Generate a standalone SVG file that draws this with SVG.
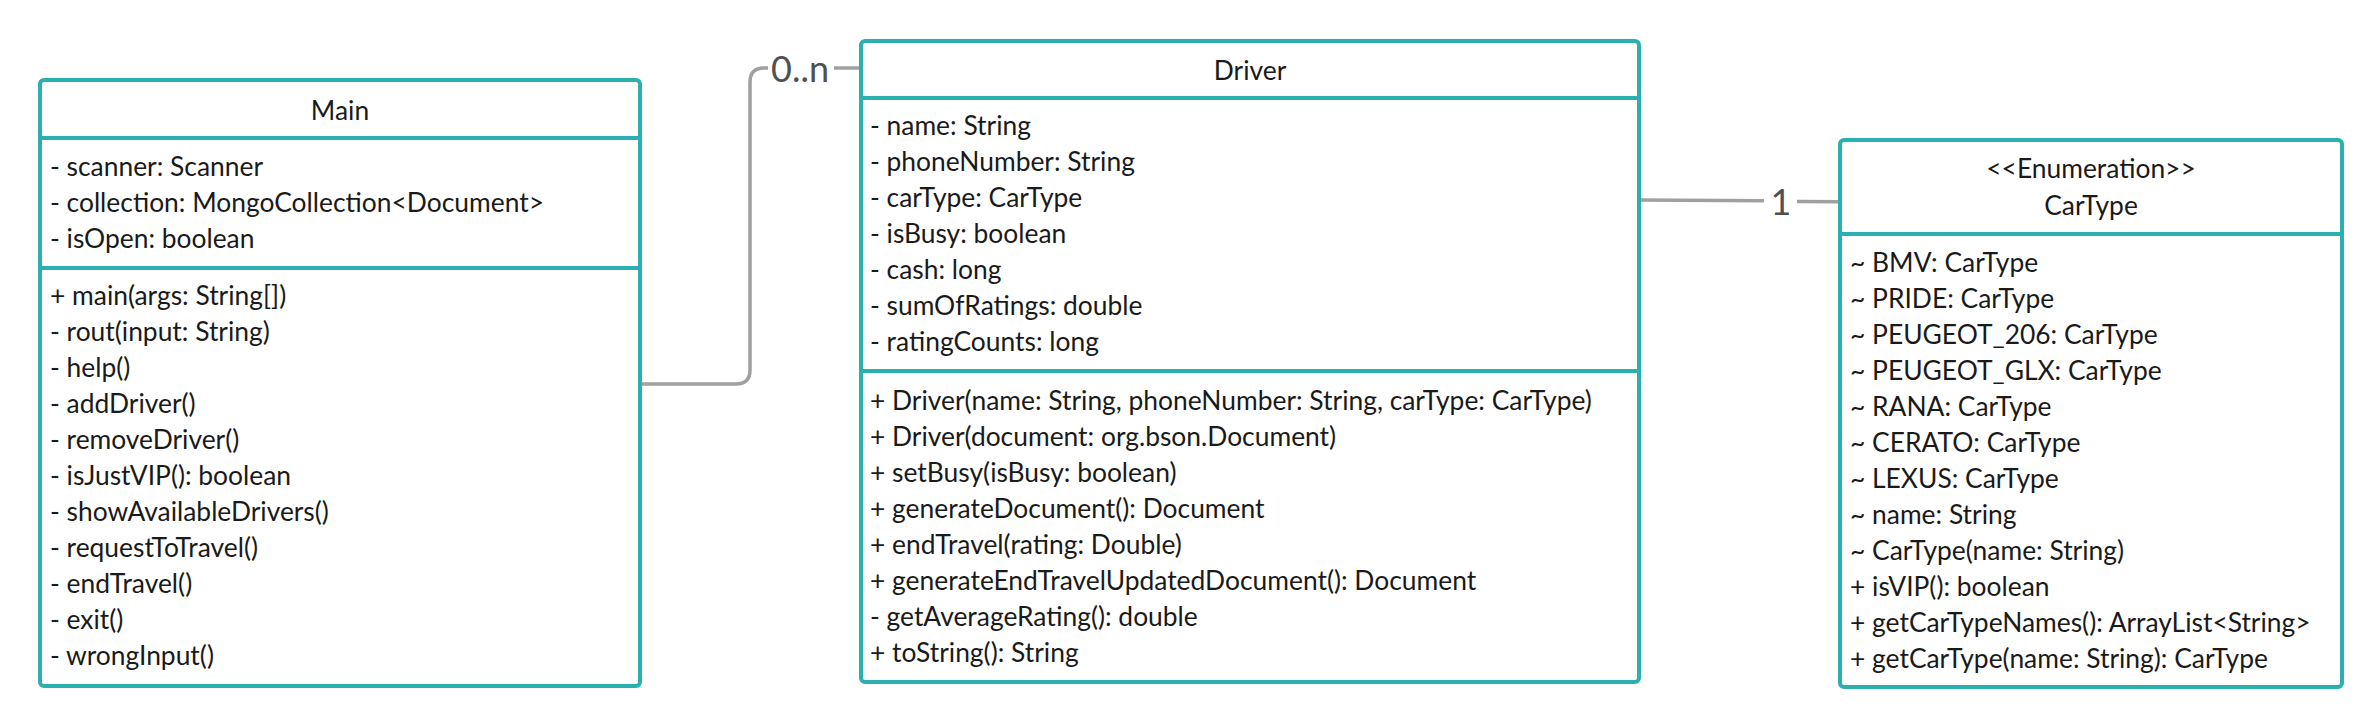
<svg xmlns="http://www.w3.org/2000/svg" width="2380" height="728" viewBox="0 0 2380 728">
<style>
.box{fill:#ffffff;stroke:#2ab0ae;stroke-width:4}
.div{stroke:#2ab0ae;stroke-width:4}
.t{font-family:Lato,"Open Sans","Liberation Sans",sans-serif;font-size:26.4px;fill:#1a1a1a}
.c{text-anchor:middle}
.conn{fill:none;stroke:#a0a0a0;stroke-width:3.5}
.lbl{font-family:Lato,"Open Sans","Liberation Sans",sans-serif;font-size:36px;fill:#505050;text-anchor:middle}
</style>
<rect width="2380" height="728" fill="#ffffff"/>
<g id="connectors">
<path class="conn" d="M640,384 H736 Q750,384 750,370 V82 Q750,68 764,68 H768"/>
<path class="conn" d="M834,68 H861"/>
<text class="lbl" x="800" y="82">0..n</text>
<path class="conn" d="M1639,200 L1764,200.8"/>
<path class="conn" d="M1797,201.5 L1840,201.8"/>
<text class="lbl" x="1781" y="215">1</text>
</g>
<g id="Main">
<rect class="box" x="40" y="80" width="600" height="606" rx="4"/>
<line class="div" x1="40" y1="138" x2="640" y2="138"/>
<line class="div" x1="40" y1="268" x2="640" y2="268"/>
<text class="t c" x="340" y="120">Main</text>
<text class="t" x="50" y="176">- scanner: Scanner</text>
<text class="t" x="50" y="212">- collection: MongoCollection&lt;Document&gt;</text>
<text class="t" x="50" y="248">- isOpen: boolean</text>
<text class="t" x="50" y="305">+ main(args: String[])</text>
<text class="t" x="50" y="341">- rout(input: String)</text>
<text class="t" x="50" y="377">- help()</text>
<text class="t" x="50" y="413">- addDriver()</text>
<text class="t" x="50" y="449">- removeDriver()</text>
<text class="t" x="50" y="485">- isJustVIP(): boolean</text>
<text class="t" x="50" y="521">- showAvailableDrivers()</text>
<text class="t" x="50" y="557">- requestToTravel()</text>
<text class="t" x="50" y="593">- endTravel()</text>
<text class="t" x="50" y="629">- exit()</text>
<text class="t" x="50" y="665">- wrongInput()</text>
</g>
<g id="Driver">
<rect class="box" x="861" y="41" width="778" height="641" rx="4"/>
<line class="div" x1="861" y1="98" x2="1639" y2="98"/>
<line class="div" x1="861" y1="371" x2="1639" y2="371"/>
<text class="t c" x="1250" y="80">Driver</text>
<text class="t" x="870" y="135">- name: String</text>
<text class="t" x="870" y="171">- phoneNumber: String</text>
<text class="t" x="870" y="207">- carType: CarType</text>
<text class="t" x="870" y="243">- isBusy: boolean</text>
<text class="t" x="870" y="279">- cash: long</text>
<text class="t" x="870" y="315">- sumOfRatings: double</text>
<text class="t" x="870" y="351">- ratingCounts: long</text>
<text class="t" x="870" y="410">+ Driver(name: String, phoneNumber: String, carType: CarType)</text>
<text class="t" x="870" y="446">+ Driver(document: org.bson.Document)</text>
<text class="t" x="870" y="482">+ setBusy(isBusy: boolean)</text>
<text class="t" x="870" y="518">+ generateDocument(): Document</text>
<text class="t" x="870" y="554">+ endTravel(rating: Double)</text>
<text class="t" x="870" y="590">+ generateEndTravelUpdatedDocument(): Document</text>
<text class="t" x="870" y="626">- getAverageRating(): double</text>
<text class="t" x="870" y="662">+ toString(): String</text>
</g>
<g id="CarType">
<rect class="box" x="1840" y="140" width="502" height="547" rx="4"/>
<line class="div" x1="1840" y1="234" x2="2342" y2="234"/>
<text class="t c" x="2091" y="178">&lt;&lt;Enumeration&gt;&gt;</text>
<text class="t c" x="2091" y="215">CarType</text>
<text class="t" x="1850" y="272">~ BMV: CarType</text>
<text class="t" x="1850" y="308">~ PRIDE: CarType</text>
<text class="t" x="1850" y="344">~ PEUGEOT_206: CarType</text>
<text class="t" x="1850" y="380">~ PEUGEOT_GLX: CarType</text>
<text class="t" x="1850" y="416">~ RANA: CarType</text>
<text class="t" x="1850" y="452">~ CERATO: CarType</text>
<text class="t" x="1850" y="488">~ LEXUS: CarType</text>
<text class="t" x="1850" y="524">~ name: String</text>
<text class="t" x="1850" y="560">~ CarType(name: String)</text>
<text class="t" x="1850" y="596">+ isVIP(): boolean</text>
<text class="t" x="1850" y="632">+ getCarTypeNames(): ArrayList&lt;String&gt;</text>
<text class="t" x="1850" y="668">+ getCarType(name: String): CarType</text>
</g>
</svg>
